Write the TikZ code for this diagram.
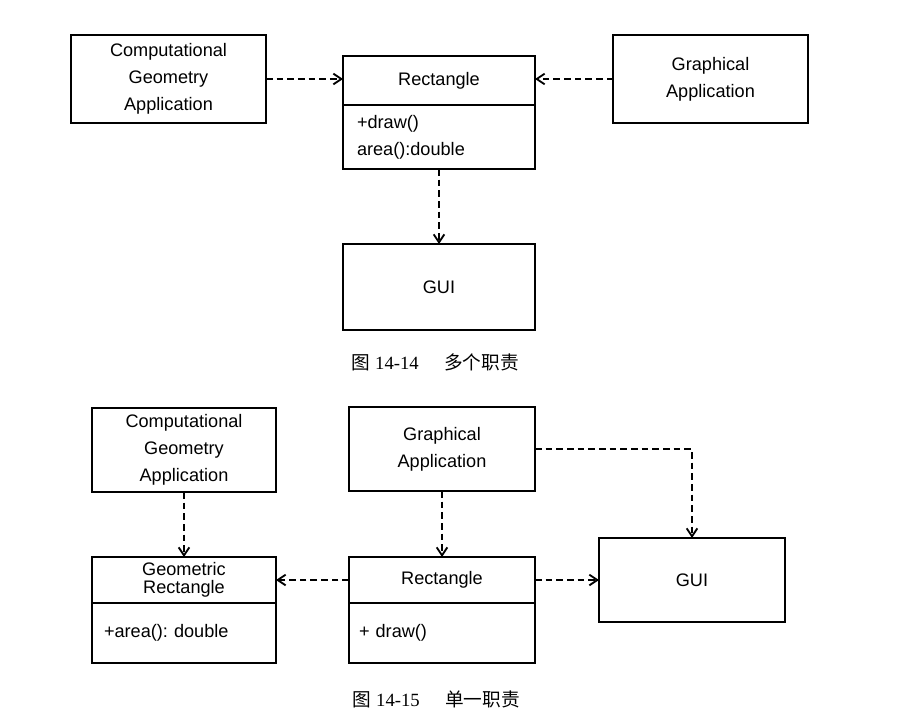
\documentclass[tikz,border=0pt]{standalone}
\usepackage{fontspec}
\setmainfont{Liberation Sans}
\newfontfamily\capfont{Liberation Serif}
\newfontfamily\cjk{Noto Sans CJK SC}
\usetikzlibrary{arrows.meta,positioning}

\newcommand{\labelfont}{\frenchspacing\fontsize{13.6}{20.25}\selectfont}
\newcommand{\tightfont}{\fontsize{13.6}{13.5}\selectfont}
\newcommand{\figcaption}[2]{% Parameters: number, title
  {\cjk 图}\hspace{4pt}#1\hspace{19pt}{\cjk #2}}

\tikzset{
  appbox/.style={draw=black,line width=1.2pt,inner sep=0pt,outer sep=0pt,align=center,
    font=\labelfont,minimum width=146pt,minimum height=66pt},
  classhead/.style={appbox,minimum height=36.75pt},
  classbody/.style={draw=black,line width=1.2pt,inner ysep=0pt,outer sep=0pt,align=left,
    font=\labelfont},
  dep/.style={line width=1.2pt,dash pattern=on 5pt off 3pt,
    -{Straight Barb[length=6pt,width=8pt,line width=1.4pt]}},
  caption/.style={font=\capfont\fontsize{14}{16}\selectfont,inner sep=0pt}
}

\begin{document}
\begin{tikzpicture}[x=0.75pt,y=-0.75pt]
  \useasboundingbox (0,0) rectangle (897,724);
  % figure 14-14
  \node[appbox] (cga) at (168.5,79) {Computational\\Geometry\\Application};
  \node[classhead,minimum width=144pt] (rect) at (439,80.5) {Rectangle};
  \node[classbody,text width=123pt,inner xsep=10.5pt,minimum height=48pt,
    below=0pt of rect] (rectops) {+draw()\\area():double};
  \node[appbox] (ga) at (710.5,79) {Graphical\\Application};
  \node[appbox,minimum width=144pt,minimum height=64.5pt] (gui) at (439,287) {GUI};
  \draw[dep] (cga.east) -- (cga.east -| rect.west);
  \draw[dep] (ga.west) -- (ga.west -| rect.east);
  \draw[dep] (rectops.south) -- (gui.north);
  \node[caption] (cap1) at (435,362) {\figcaption{14-14}{多个职责}};

  % figure 14-15
  \node[appbox,minimum width=138pt,minimum height=63pt] (cga2) at (184,450)
    {Computational\\Geometry\\Application};
  \node[classhead,minimum width=138pt,minimum height=34.5pt,font=\tightfont] (geo)
    at (184,580) {Geometric\\Rectangle};
  \node[classbody,text width=120pt,inner xsep=9pt,minimum height=45pt,
    below=0pt of geo] (geoops) {+area(): double};
  \node[appbox,minimum width=139.5pt,minimum height=63pt] (ga2) at (442,449)
    {Graphical\\Application};
  \node[classhead,minimum width=139.5pt,minimum height=34.5pt] (rect2) at (442,580)
    {Rectangle};
  \node[classbody,text width=124.5pt,inner xsep=7.5pt,minimum height=45pt,
    below=0pt of rect2] (rect2ops) {+ draw()};
  \node[appbox,minimum width=139.5pt,minimum height=63pt] (gui2) at (692,580) {GUI};
  \draw[dep] (cga2.south) -- (geo.north);
  \draw[dep] (ga2.south) -- (rect2.north);
  \draw[dep] (rect2.west) -- (geo.east);
  \draw[dep] (rect2.east) -- (gui2.west);
  \draw[dep] (ga2.east) -| (gui2.north);
  \node[caption] (cap2) at (436,699) {\figcaption{14-15}{单一职责}};
\end{tikzpicture}
\end{document}
